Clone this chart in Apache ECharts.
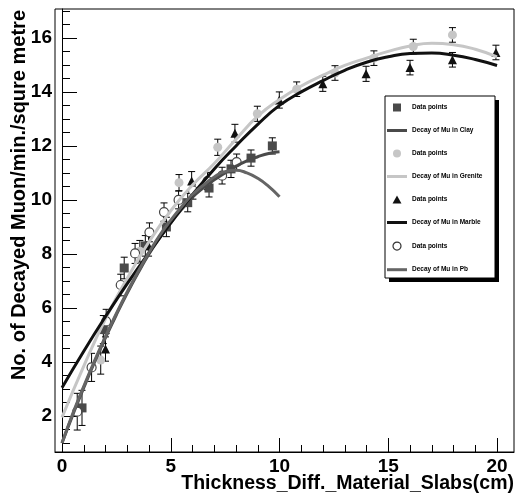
<!DOCTYPE html>
<html>
<head>
<meta charset="utf-8">
<script src="https://cdn.jsdelivr.net/npm/echarts@6/dist/echarts.min.js"></script>
<style>html,body{margin:0;padding:0;background:#fff;}#c{width:518px;height:497px;}</style>
</head>
<body>
<div id="c"></div>
<script>
// ---- data ----
const xMajorTicks = [0, 5, 10, 15, 20];
const xMinorTicks = [1, 2, 3, 4, 6, 7, 8, 9, 11, 12, 13, 14, 16, 17, 18, 19];
const yMajorTicks = [2, 4, 6, 8, 10, 12, 14, 16];
const yMinorTicks = [1, 1.5, 2.5, 3, 3.5, 4.5, 5, 5.5, 6.5, 7, 7.5, 8.5, 9, 9.5, 10.5, 11, 11.5, 12.5, 13, 13.5, 14.5, 15, 15.5, 16.5, 17];
const xTitle = 'Thickness_Diff._Material_Slabs(cm)';
const yTitle = 'No. of Decayed Muon/min./squre metre';

const clayX = [0.92, 1.9, 2.86, 3.83, 4.8, 5.78, 6.76, 7.77, 8.69, 9.67];
const clayY = [2.3, 5.2, 7.48, 8.3, 9.0, 9.9, 10.44, 11.15, 11.55, 12.0];
const clayErr = [0.65, 0.52, 0.4, 0.38, 0.36, 0.34, 0.33, 0.32, 0.3, 0.3];

const graniteX = [1.78, 3.58, 5.38, 7.16, 8.98, 10.79, 12.55, 14.34, 16.15, 17.95];
const graniteY = [4.07, 8.1, 10.64, 11.95, 13.19, 14.1, 14.7, 15.25, 15.68, 16.11];
const graniteErr = [0.52, 0.4, 0.3, 0.3, 0.28, 0.27, 0.27, 0.27, 0.27, 0.27];

const marbleX = [2.0, 3.98, 5.96, 7.95, 9.99, 11.99, 13.98, 16.0, 17.95, 19.95];
const marbleY = [4.48, 8.3, 10.7, 12.47, 13.7, 14.3, 14.67, 14.9, 15.19, 15.46];
const marbleErr = [0.45, 0.38, 0.35, 0.33, 0.3, 0.28, 0.28, 0.27, 0.27, 0.27];

const pbX = [0.7, 1.36, 2.03, 2.7, 3.36, 4.02, 4.69, 5.36, 6.02, 6.69, 7.36, 8.03];
const pbY = [2.16, 3.8, 5.5, 6.85, 8.02, 8.8, 9.55, 10.0, 10.35, 10.7, 10.9, 11.4];
const pbErr = [0.68, 0.52, 0.45, 0.4, 0.37, 0.35, 0.34, 0.33, 0.32, 0.32, 0.31, 0.3];

// fitted curves
const shortFitX = [0, 0.5, 1, 1.5, 2, 2.5, 3, 3.5, 4, 4.5, 5, 5.5, 6, 6.5, 7, 7.5, 8, 8.5, 9, 9.5, 10];
const clayFitY = [1.0, 2.05, 3.05, 4.0, 4.9, 5.75, 6.55, 7.3, 8.0, 8.6, 9.15, 9.65, 10.1, 10.45, 10.75, 11.0, 11.25, 11.45, 11.6, 11.72, 11.78];
const pbFitY = [1.0, 2.1, 3.1, 4.05, 4.95, 5.8, 6.6, 7.35, 8.05, 8.7, 9.25, 9.75, 10.2, 10.55, 10.85, 11.05, 11.1, 11.0, 10.8, 10.5, 10.12];
const longFitX = [0, 1, 2, 3, 4, 5, 6, 7, 8, 9, 10, 11, 12, 13, 14, 15, 16, 17, 18, 19, 20];
const graniteFitY = [1.95, 3.85, 5.6, 7.1, 8.45, 9.6, 10.55, 11.35, 12.25, 13.1, 13.72, 14.22, 14.62, 14.98, 15.25, 15.5, 15.7, 15.8, 15.75, 15.58, 15.3];
const marbleFitY = [3.05, 4.4, 5.68, 6.9, 8.05, 9.15, 10.2, 11.15, 12.0, 12.8, 13.5, 14.0, 14.42, 14.8, 15.1, 15.3, 15.42, 15.44, 15.36, 15.2, 14.98];

const legendNames = ['Clay points', 'Decay of Mu in Clay', 'Granite points', 'Decay of Mu in Grenite',
  'Marble points', 'Decay of Mu in Marble', 'Pb points', 'Decay of Mu in Pb'];
const legendLabels = ['Data points', 'Decay of Mu in Clay', 'Data points', 'Decay of Mu in Grenite',
  'Data points', 'Decay of Mu in Marble', 'Data points', 'Decay of Mu in Pb'];

// ---- build ----
const FONT = '"Liberation Sans", Arial, Helvetica, sans-serif';
const C_CLAY = '#4a4a4a', C_GRAN = '#c6c6c6', C_MARB = '#111111', C_PB = '#656565';
function zip(xs, ys) { return xs.map((x, i) => [x, ys[i]]); }
function zip3(xs, ys, es) { return xs.map((x, i) => [x, ys[i], es[i]]); }

function errRender(params, api) {
  const x = api.value(0), y = api.value(1), e = api.value(2);
  const t = api.coord([x, y + e]), b = api.coord([x, y - e]);
  const cw = 3.5;
  const st = { stroke: '#000', lineWidth: 1 };
  return {
    type: 'group', children: [
      { type: 'line', shape: { x1: t[0], y1: t[1], x2: b[0], y2: b[1] }, style: st },
      { type: 'line', shape: { x1: t[0] - cw, y1: t[1], x2: t[0] + cw, y2: t[1] }, style: st },
      { type: 'line', shape: { x1: b[0] - cw, y1: b[1], x2: b[0] + cw, y2: b[1] }, style: st }
    ]
  };
}
function errSeries(xs, ys, es) {
  return { type: 'custom', renderItem: errRender, data: zip3(xs, ys, es), z: 2, silent: true,
    encode: { x: 0, y: 1 }, clip: true };
}
function lineSeries(name, xs, ys, color) {
  return { name, type: 'line', data: zip(xs, ys), symbol: 'none', showSymbol: false, smooth: true, z: 4,
    lineStyle: { color, width: 3 }, itemStyle: { color }, silent: true };
}
function pointSeries(name, xs, ys, symbol, fill, stroke) {
  return { name, type: 'scatter', data: zip(xs, ys), symbol, symbolSize: 9, z: 3,
    itemStyle: { color: fill, borderColor: stroke || fill, borderWidth: stroke ? 1.2 : 0, opacity: 1 } };
}

const ICON_SQUARE = 'path://M0,0h10v10h-10z';
const ICON_TRI = 'path://M5,0L10,9L0,9Z';
const ICON_LINE = 'path://M0,0h40v6h-40z';
const legendData = [
  { name: legendNames[0], icon: ICON_SQUARE, itemStyle: { color: C_CLAY, borderWidth: 0 } },
  { name: legendNames[1], icon: ICON_LINE, itemStyle: { color: C_CLAY, borderWidth: 0 } },
  { name: legendNames[2], icon: 'circle', itemStyle: { color: C_GRAN, borderWidth: 0 } },
  { name: legendNames[3], icon: ICON_LINE, itemStyle: { color: C_GRAN, borderWidth: 0 } },
  { name: legendNames[4], icon: ICON_TRI, itemStyle: { color: C_MARB, borderWidth: 0 } },
  { name: legendNames[5], icon: ICON_LINE, itemStyle: { color: C_MARB, borderWidth: 0 } },
  { name: legendNames[6], icon: 'circle', itemStyle: { color: '#fff', borderColor: '#333', borderWidth: 1.2 } },
  { name: legendNames[7], icon: ICON_LINE, itemStyle: { color: C_PB, borderWidth: 0 } }
];

const XMIN = -0.322, XMAX = 20.78, YMIN = 0.667, YMAX = 17.07;
const baseAxisLabel = { color: '#000', fontFamily: FONT, fontWeight: 'bold', fontSize: 19 };

const option = {
  backgroundColor: '#fff',
  animation: false,
  grid: { left: 55, right: 4, top: 9, bottom: 45, containLabel: false, outerBoundsMode: 'none',
    show: true, borderColor: '#000', borderWidth: 1, backgroundColor: 'transparent' },
  xAxis: [
    { type: 'value', min: XMIN, max: XMAX, position: 'bottom',
      axisLine: { show: true, lineStyle: { color: '#000', width: 1 } },
      splitLine: { show: false },
      axisTick: { show: true, inside: true, length: 14, customValues: xMajorTicks, lineStyle: { color: '#000' } },
      axisLabel: Object.assign({ customValues: xMajorTicks, margin: 5 }, baseAxisLabel) },
    { type: 'value', min: XMIN, max: XMAX, position: 'bottom',
      axisLine: { show: false }, splitLine: { show: false }, axisLabel: { show: false },
      axisTick: { show: true, inside: true, length: 7, customValues: xMinorTicks, lineStyle: { color: '#000' } } }
  ],
  yAxis: [
    { type: 'value', min: YMIN, max: YMAX, position: 'left',
      axisLine: { show: true, lineStyle: { color: '#000', width: 1 } },
      splitLine: { show: false },
      axisTick: { show: true, inside: true, length: 15, customValues: yMajorTicks, lineStyle: { color: '#000' } },
      axisLabel: Object.assign({ customValues: yMajorTicks, margin: 3 }, baseAxisLabel) },
    { type: 'value', min: YMIN, max: YMAX, position: 'left',
      axisLine: { show: false }, splitLine: { show: false }, axisLabel: { show: false },
      axisTick: { show: true, inside: true, length: 8, customValues: yMinorTicks, lineStyle: { color: '#000' } } }
  ],
  legend: {
    data: legendData, orient: 'vertical', left: 387, top: 103.5, itemWidth: 20, itemHeight: 8, itemGap: 15.5,
    selectedMode: false, padding: 0, symbolKeepAspect: true,
    formatter: function (n) { return legendLabels[legendNames.indexOf(n)]; },
    textStyle: { color: '#000', fontFamily: FONT, fontWeight: 'bold', fontSize: 6.5 }
  },
  graphic: [
    { type: 'rect', shape: { x: 389, y: 100, width: 110, height: 182 }, style: { fill: '#000' }, z: 1 },
    { type: 'rect', shape: { x: 385, y: 96, width: 110, height: 182 }, style: { fill: '#fff', stroke: '#000', lineWidth: 1 }, z: 1 },
    { type: 'text', x: 514, y: 484, z: 5,
      style: { text: xTitle, fill: '#000', font: 'bold 19.5px ' + FONT, textAlign: 'right', textVerticalAlign: 'middle' } },
    { type: 'text', x: 19, y: 10, rotation: Math.PI / 2, z: 5,
      style: { text: yTitle, fill: '#000', font: 'bold 20px ' + FONT, textAlign: 'right', textVerticalAlign: 'middle' } }
  ],
  series: [
    errSeries(clayX, clayY, clayErr),
    errSeries(graniteX, graniteY, graniteErr),
    errSeries(marbleX, marbleY, marbleErr),
    errSeries(pbX, pbY, pbErr),
    pointSeries('Clay points', clayX, clayY, 'rect', C_CLAY, null),
    pointSeries('Granite points', graniteX, graniteY, 'circle', C_GRAN, null),
    pointSeries('Marble points', marbleX, marbleY, 'triangle', C_MARB, null),
    pointSeries('Pb points', pbX, pbY, 'circle', '#fff', '#444'),
    lineSeries('Decay of Mu in Clay', shortFitX, clayFitY, C_CLAY),
    lineSeries('Decay of Mu in Grenite', longFitX, graniteFitY, C_GRAN),
    lineSeries('Decay of Mu in Marble', longFitX, marbleFitY, C_MARB),
    lineSeries('Decay of Mu in Pb', shortFitX, pbFitY, C_PB)
  ]
};
const chart = echarts.init(document.getElementById('c'), null, { renderer: 'canvas' });
chart.setOption(option);
</script>
</body>
</html>
